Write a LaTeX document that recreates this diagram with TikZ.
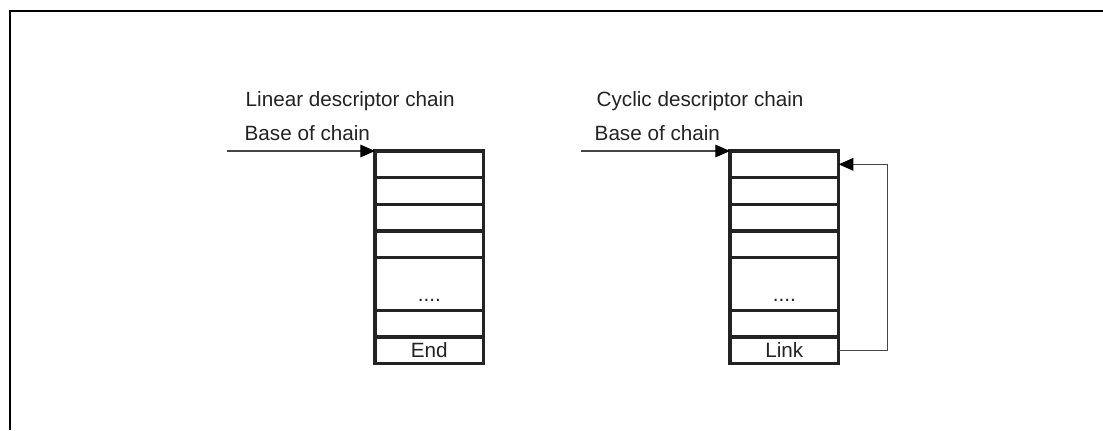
\documentclass[tikz,border=0pt]{standalone}
\usepackage{fontspec}
\setmainfont{Liberation Sans}
\usepackage{tikz}
\usetikzlibrary{arrows.meta,positioning,calc}
\usepackage{xcolor}
\definecolor{inkgray}{RGB}{35,35,35}
\definecolor{linegray}{RGB}{70,70,70}

\begin{document}
\begin{tikzpicture}[x=0.75pt, y=-0.75pt, >={Triangle[length=11pt,width=9.5pt,color=black]},
  every node/.style={font=\fontsize{15.5pt}{18pt}\selectfont, text=inkgray},
  cell/.style={draw=inkgray, line width=2.3pt, minimum width=81.5pt, minimum height=20pt, inner sep=0pt, outer sep=0pt},
  tallcell/.style={cell, minimum height=39.5pt},
  feed/.style={->, draw=linegray, line width=0.8pt}]
  \useasboundingbox (0,0) rectangle (1103,430);
  \draw[line width=2.2pt] (9,11) -- (1103,11);
  \draw[line width=2.2pt] (10,11) -- (10,430);

  % linear chain
  \node[anchor=base west] (ltitle) at (241,106) {Linear descriptor chain};
  \node[anchor=base west] (lbase) at (240,140) {Base of chain};
  \node[cell, anchor=north west] (l1) at (375,151) {};
  \node[cell, below=0pt of l1] (l2) {};
  \node[cell, below=0pt of l2] (l3) {};
  \node[cell, below=0pt of l3] (l4) {};
  \node[tallcell, below=0pt of l4] (l5) {};
  \node[cell, below=0pt of l5] (l6) {};
  \node[cell, below=0pt of l6] (l7) {End};
  \node[anchor=base] (ldots) at ([yshift=6.5pt]l5.south) {....};
  \coordinate (lin) at (227,151);
  \draw[feed] (lin) -- (l1.north west);

  % cyclic chain
  \node[anchor=base west] (ctitle) at (592,106) {Cyclic descriptor chain};
  \node[anchor=base west] (cbase) at (590,140) {Base of chain};
  \node[cell, anchor=north west] (c1) at (730,151) {};
  \node[cell, below=0pt of c1] (c2) {};
  \node[cell, below=0pt of c2] (c3) {};
  \node[cell, below=0pt of c3] (c4) {};
  \node[tallcell, below=0pt of c4] (c5) {};
  \node[cell, below=0pt of c5] (c6) {};
  \node[cell, below=0pt of c6] (c7) {Link};
  \node[anchor=base] (cdots) at ([yshift=6.5pt]c5.south) {....};
  \coordinate (cin) at (581,151);
  \draw[feed] (cin) -- (c1.north west);
  \draw[feed] (c7.east) -- ++(49,0) |- (c1.east);
\end{tikzpicture}
\end{document}
